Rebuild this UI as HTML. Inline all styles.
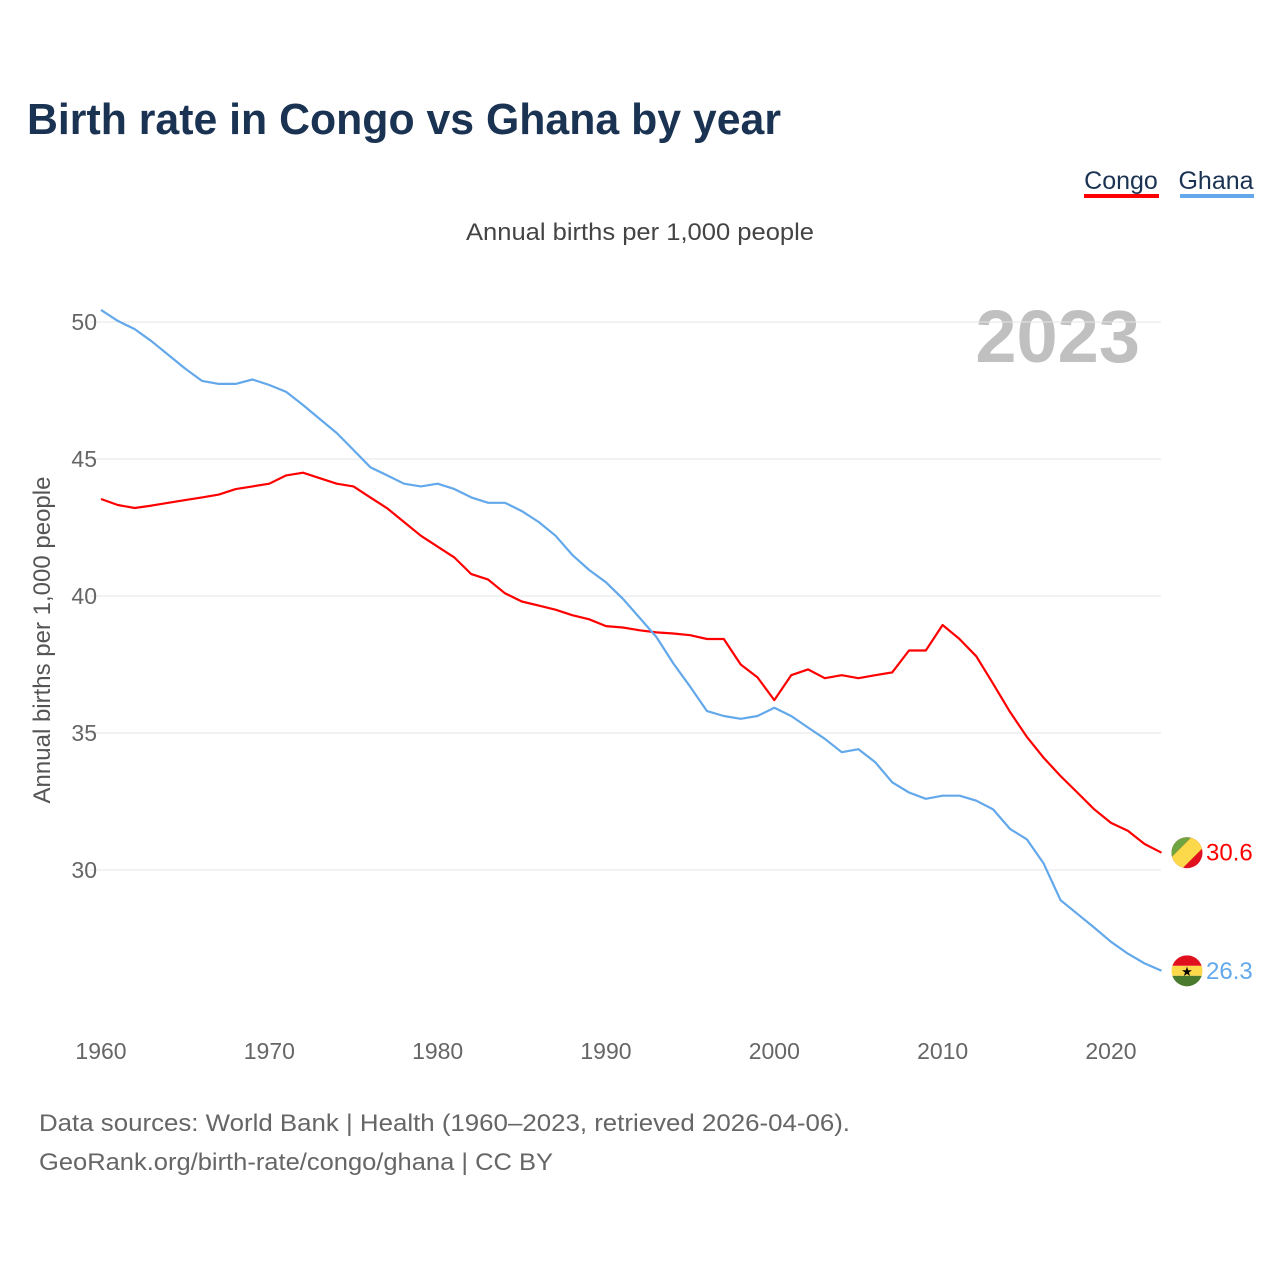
<!DOCTYPE html>
<html><head><meta charset="utf-8"><style>
body{margin:0;background:#fff;font-family:"Liberation Sans",sans-serif;}
#wrap{position:relative;width:1280px;height:1280px;overflow:hidden;}
</style></head><body>
<div id="wrap">
<svg id="svg" width="1280" height="1280" xmlns="http://www.w3.org/2000/svg">
<text x="27" y="134" font-size="44" font-weight="bold" fill="#1a3353" textLength="754" lengthAdjust="spacingAndGlyphs">Birth rate in Congo vs Ghana by year</text>
<g><text x="1121" y="189" font-size="25" fill="#1a3353" text-anchor="middle">Congo</text><rect x="1084" y="194" width="75" height="4" fill="#ff0000"/></g>
<g><text x="1216" y="189" font-size="25" fill="#1a3353" text-anchor="middle">Ghana</text><rect x="1180" y="194" width="74" height="4" fill="#62a8ea"/></g>
<text x="466" y="240" font-size="24" fill="#444" textLength="348" lengthAdjust="spacingAndGlyphs">Annual births per 1,000 people</text>
<text x="1140" y="362" font-size="74" font-weight="bold" fill="#c0c0c0" text-anchor="end">2023</text>
<text transform="translate(50,640) rotate(-90)" font-size="24" fill="#555" text-anchor="middle">Annual births per 1,000 people</text>
<g id="grid"></g><g id="lines"></g><g id="labels"></g>
<text x="39" y="1131" font-size="24" fill="#666" textLength="811" lengthAdjust="spacingAndGlyphs">Data sources: World Bank | Health (1960–2023, retrieved 2026-04-06).</text>
<text x="39" y="1170" font-size="24" fill="#666" textLength="514" lengthAdjust="spacingAndGlyphs">GeoRank.org/birth-rate/congo/ghana | CC BY</text>
</svg></div>
<script>
const years=[];for(let y=1960;y<=2023;y++)years.push(y);
const congo=[43.54,43.32,43.21,43.3,43.4,43.5,43.6,43.7,43.9,44.0,44.1,44.4,44.5,44.3,44.1,44.0,43.6,43.2,42.7,42.2,41.8,41.4,40.8,40.6,40.1,39.8,39.65,39.5,39.3,39.15,38.9,38.85,38.75,38.67,38.63,38.57,38.43,38.43,37.5,37.03,36.2,37.11,37.32,37.0,37.11,37.0,37.11,37.21,38.01,38.01,38.94,38.43,37.8,36.8,35.77,34.86,34.1,33.43,32.83,32.22,31.72,31.43,30.95,30.63];
const ghana=[50.44,50.04,49.74,49.3,48.8,48.3,47.85,47.74,47.74,47.9,47.7,47.45,46.97,46.46,45.95,45.33,44.7,44.4,44.1,44.0,44.1,43.9,43.6,43.4,43.4,43.1,42.7,42.2,41.5,40.95,40.5,39.9,39.2,38.5,37.54,36.69,35.8,35.62,35.52,35.62,35.92,35.62,35.2,34.79,34.3,34.41,33.93,33.2,32.83,32.6,32.71,32.71,32.53,32.21,31.5,31.12,30.24,28.9,28.4,27.9,27.38,26.95,26.59,26.32];
const yTicks=[30,35,40,45,50];
const xTicks=[1960,1970,1980,1990,2000,2010,2020];
const NS="http://www.w3.org/2000/svg";
const xS=y=>101+(y-1960)*16.833;
const yS=v=>322+(50-v)*27.4;
function mk(tag,attrs,parent){const e=document.createElementNS(NS,tag);for(const k in attrs)e.setAttribute(k,attrs[k]);parent.appendChild(e);return e;}
const grid=document.getElementById('grid'),lines=document.getElementById('lines'),labels=document.getElementById('labels');
yTicks.forEach(v=>{
 const l=mk('line',{x1:90,x2:1161,y1:yS(v),y2:yS(v),stroke:'#e6e6e6','stroke-width':1},grid);
 
 
 const t=mk('text',{x:97,y:yS(v)+8,'font-size':23,fill:'#666','text-anchor':'end'},grid);t.textContent=v;
 
 
});
xTicks.forEach(y=>{
 const t=mk('text',{x:xS(y),y:1059,'font-size':23,fill:'#666','text-anchor':'middle'},grid);t.textContent=y;
 
 
});
function series(vals,color,name){
 const p=mk('path',{d:vals.map((v,i)=>(i?'L':'M')+xS(years[i]).toFixed(1)+','+yS(v).toFixed(1)).join(''),fill:'none',stroke:color,'stroke-width':2.2,'stroke-linejoin':'round'},lines);
 
 
}
series(congo,'#ff0000','congo');
series(ghana,'#62a8ea','ghana');
const cy=yS(congo[congo.length-1]),gy=yS(ghana[ghana.length-1]),fx=1187;
const defs=mk('defs',{},labels);
const c1=mk('clipPath',{id:'cf'},defs);mk('circle',{cx:fx,cy:cy,r:15.5},c1);
const c2=mk('clipPath',{id:'gf'},defs);mk('circle',{cx:fx,cy:gy,r:15.5},c2);
const fc=mk('g',{'clip-path':'url(#cf)'},labels);


mk('rect',{x:fx-16,y:cy-16,width:32,height:32,fill:'#e0101f'},fc);
mk('polygon',{points:`${fx-16},${cy-16} ${fx+5},${cy-16} ${fx-16},${cy+5}`,fill:'#6ea541'},fc);
mk('polygon',{points:`${fx+5},${cy-16} ${fx+16},${cy-16} ${fx+16},${cy-5} ${fx-5},${cy+16} ${fx-16},${cy+16} ${fx-16},${cy+5}`,fill:'#fbd94a'},fc);
const gf=mk('g',{'clip-path':'url(#gf)'},labels);


mk('rect',{x:fx-16,y:gy-16,width:32,height:11,fill:'#e0101f'},gf);
mk('rect',{x:fx-16,y:gy-5,width:32,height:10,fill:'#fbd94a'},gf);
mk('rect',{x:fx-16,y:gy+5,width:32,height:11,fill:'#4a7a2e'},gf);
const st=mk('text',{x:fx,y:gy+5,'font-size':13,'text-anchor':'middle',fill:'#000'},gf);st.textContent='★';
const t1=mk('text',{x:1206,y:cy+8,'font-size':24,fill:'#ff0000'},labels);t1.textContent=congo[congo.length-1].toFixed(1);


const t2=mk('text',{x:1206,y:gy+8,'font-size':24,fill:'#62a8ea'},labels);t2.textContent=ghana[ghana.length-1].toFixed(1);


</script>
</body></html>
